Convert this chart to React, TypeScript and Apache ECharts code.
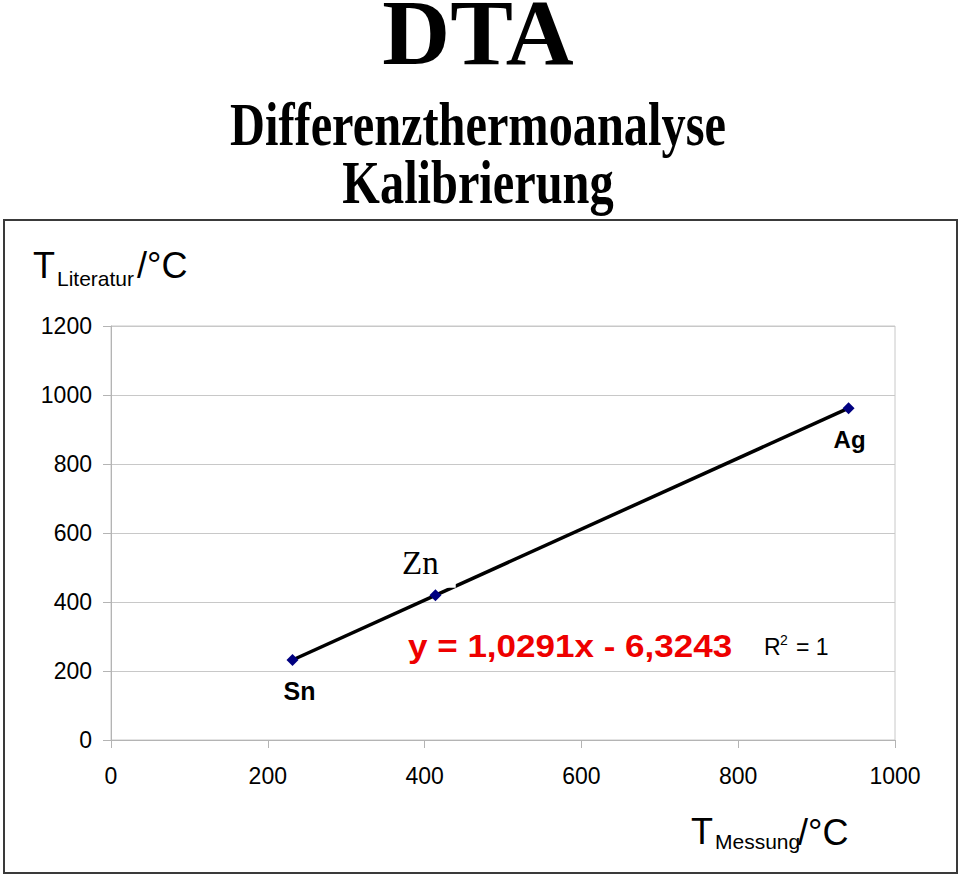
import React, { useEffect, useRef } from "react";
import * as echarts from "echarts";

// ---- data ----
const metals = ["Sn", "Zn", "Ag"];
const measuredX = [231.5, 413.8, 940.8]; // T Messung / °C
const literatureY = [231.9, 419.5, 961.8]; // T Literatur / °C
const fitSlope = 1.0291;
const fitIntercept = -6.3243;
const equationText = "y = 1,0291x - 6,3243";
const xMin = 0, xMax = 1000, xStep = 200;
const yMin = 0, yMax = 1200, yStep = 200;

const SANS = "'Liberation Sans', Arial, sans-serif";
const SERIF = "'Liberation Serif', 'Times New Roman', serif";

// label placement for each point (offset from marker)
const labelStyles: Record<string, any> = {
  Sn: { offset: [7, 31], fontFamily: SANS, fontWeight: "bold", fontSize: 25 },
  Zn: {
    offset: [-15, -32], fontFamily: SERIF, fontWeight: "normal", fontSize: 33,
    backgroundColor: "#ffffff", padding: [8, 17, 8, 17],
  },
  Ag: { offset: [1, 31], fontFamily: SANS, fontWeight: "bold", fontSize: 24 },
};

export default function App() {
  const ref = useRef<HTMLDivElement>(null);
  useEffect(() => {
    if (!ref.current) return;
    const chart = echarts.init(ref.current, null, { renderer: "svg" });
    const minX = Math.min(...measuredX);
    const maxX = Math.max(...measuredX);
    const trend = [minX, maxX].map((x) => [x, fitSlope * x + fitIntercept]);
    const points = metals.map((m, i) => ({
      name: m,
      value: [measuredX[i], literatureY[i]],
      label: {
        show: true,
        position: "inside",
        formatter: "{b}",
        color: "#000",
        opacity: 1,
        textBorderWidth: 0,
        textBorderColor: "transparent",
        textShadowBlur: 0,
        ...labelStyles[m],
      },
    }));

    chart.setOption({
      animation: false,
      backgroundColor: "#ffffff",
      grid: {
        left: 111, top: 326, width: 784, height: 414,
        show: true, borderColor: "#c8c8c8", borderWidth: 1,
        backgroundColor: "transparent",
      },
      xAxis: {
        type: "value", min: xMin, max: xMax, interval: xStep,
        axisLine: { show: true, onZero: false, lineStyle: { color: "#b4b4b4", width: 1 } },
        axisTick: { show: true, length: 8, lineStyle: { color: "#b4b4b4" } },
        axisLabel: {
          margin: 24, color: "#000", fontSize: 23, fontFamily: SANS,
          formatter: (v: number) => String(v),
        },
        splitLine: { show: false },
      },
      yAxis: {
        type: "value", min: yMin, max: yMax, interval: yStep,
        axisLine: { show: true, onZero: false, lineStyle: { color: "#b4b4b4", width: 1 } },
        axisTick: { show: true, length: 8, lineStyle: { color: "#b4b4b4" } },
        axisLabel: {
          margin: 19, color: "#000", fontSize: 23, fontFamily: SANS,
          formatter: (v: number) => String(v),
        },
        splitLine: { show: true, lineStyle: { color: "#c8c8c8", width: 1 } },
      },
      series: [
        {
          type: "line", data: trend, z: 2, symbol: "none", silent: true,
          lineStyle: { color: "#000", width: 3.5 },
        },
        {
          type: "scatter", data: points, z: 3, symbol: "diamond", symbolSize: 12,
          itemStyle: { color: "#000080", opacity: 1 },
        },
      ],
      graphic: [
        {
          type: "rect", z: 0, silent: true,
          shape: { x: 4, y: 220, width: 953, height: 653 },
          style: { fill: "none", stroke: "#3a3a3a", lineWidth: 2 },
        },
        {
          type: "text", x: 478, y: 32,
          style: { text: "DTA", fontFamily: SERIF, fontWeight: "bold", fontSize: 94, lineHeight: 64, fill: "#000", align: "center", verticalAlign: "middle" },
        },
        {
          type: "text", x: 478, y: 124, scaleX: 0.78,
          style: { text: "Differenzthermoanalyse", fontFamily: SERIF, fontWeight: "bold", fontSize: 62, fill: "#000", align: "center", verticalAlign: "middle" },
        },
        {
          type: "text", x: 478, y: 182, scaleX: 0.78,
          style: { text: "Kalibrierung", fontFamily: SERIF, fontWeight: "bold", fontSize: 62, fill: "#000", align: "center", verticalAlign: "middle" },
        },
        // y axis title
        { type: "text", x: 33, y: 265, style: { text: "T", fontFamily: SANS, fontSize: 36, fill: "#000", align: "left", verticalAlign: "middle" } },
        { type: "text", x: 57, y: 278, style: { text: "Literatur", fontFamily: SANS, fontSize: 21, fill: "#000", align: "left", verticalAlign: "middle" } },
        { type: "text", x: 137, y: 265, style: { text: "/°C", fontFamily: SANS, fontSize: 36, fill: "#000", align: "left", verticalAlign: "middle" } },
        // x axis title
        { type: "text", x: 691, y: 831, style: { text: "T", fontFamily: SANS, fontSize: 36, fill: "#000", align: "left", verticalAlign: "middle" } },
        { type: "text", x: 715, y: 841, style: { text: "Messung", fontFamily: SANS, fontSize: 21, fill: "#000", align: "left", verticalAlign: "middle" } },
        { type: "text", x: 798, y: 832, style: { text: "/°C", fontFamily: SANS, fontSize: 36, fill: "#000", align: "left", verticalAlign: "middle" } },
        // regression equation
        {
          type: "text", x: 408, y: 646, scaleX: 1.13,
          style: { text: equationText, fontFamily: SANS, fontWeight: "bold", fontSize: 31, fill: "#ee0000", align: "left", verticalAlign: "middle" },
        },
        { type: "text", x: 764, y: 647, style: { text: "R", fontFamily: SANS, fontSize: 23, fill: "#000", align: "left", verticalAlign: "middle" } },
        { type: "text", x: 780, y: 640, style: { text: "2", fontFamily: SANS, fontSize: 14, fill: "#000", align: "left", verticalAlign: "middle" } },
        { type: "text", x: 796, y: 647, style: { text: "= 1", fontFamily: SANS, fontSize: 23, fill: "#000", align: "left", verticalAlign: "middle" } },
      ],
    });
    return () => chart.dispose();
  }, []);
  return (
    <div
      ref={ref}
      style={{ position: "absolute", left: 0, top: 0, width: 960, height: 876, background: "#fff" }}
    />
  );
}
